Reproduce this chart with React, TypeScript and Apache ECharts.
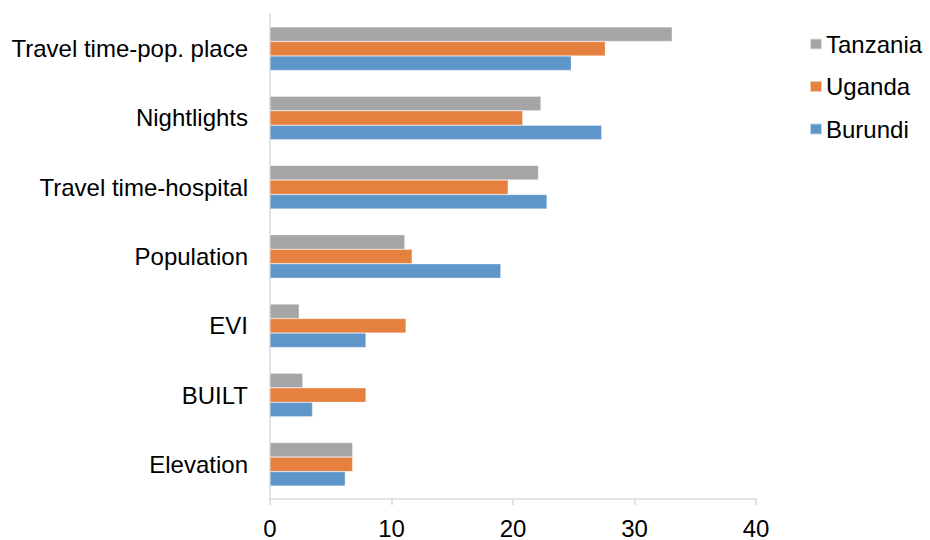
import React, { useEffect, useRef } from "react";
import * as echarts from "echarts";

const categories = [
  "Elevation",
  "BUILT",
  "EVI",
  "Population",
  "Travel time-hospital",
  "Nightlights",
  "Travel time-pop. place",
];
const seriesNames = ["Tanzania", "Uganda", "Burundi"];
const tanzania = [6.8, 2.7, 2.4, 11.1, 22.1, 22.3, 33.1];
const uganda = [6.8, 7.9, 11.2, 11.7, 19.6, 20.8, 27.6];
const burundi = [6.2, 3.5, 7.9, 19.0, 22.8, 27.3, 24.8];
const xTicks = [0, 10, 20, 30, 40];
const colors = ["#A5A5A8", "#E5803F", "#5F96CA"];

export default function App() {
  const ref = useRef<HTMLDivElement>(null);
  useEffect(() => {
    if (!ref.current) return;
    const chart = echarts.init(ref.current, null, { renderer: "svg" });
    const font = "'Liberation Sans', Arial, sans-serif";
    const values = [tanzania, uganda, burundi];
    chart.setOption({
      animation: false,
      textStyle: { fontFamily: font },
      grid: { left: 270, right: 174, top: 14, bottom: 38, containLabel: false },
      legend: {
        orient: "vertical",
        left: 804,
        top: 27,
        itemWidth: 12,
        itemHeight: 11,
        itemGap: 18.5,
        icon: "rect",
        data: seriesNames,
        textStyle: { fontSize: 24, color: "#000", fontFamily: font, padding: [0, 0, 0, -1] },
      },
      xAxis: {
        type: "value",
        min: xTicks[0],
        max: xTicks[xTicks.length - 1],
        interval: 10,
        axisLine: { show: true, lineStyle: { color: "#D9D9D9", width: 1.5 } },
        axisTick: { show: true, length: 6, lineStyle: { color: "#D9D9D9", width: 1.5 } },
        splitLine: { show: false },
        axisLabel: { fontSize: 24, color: "#000", margin: 17, fontFamily: font },
      },
      yAxis: {
        type: "category",
        data: categories,
        axisLine: { show: true, lineStyle: { color: "#D9D9D9", width: 1.5 } },
        axisTick: { show: false },
        axisLabel: { fontSize: 24, color: "#000", margin: 22, fontFamily: font },
      },
      series: seriesNames.map((name, i) => ({
        name,
        type: "bar",
        data: values[i],
        barWidth: 14.5,
        barGap: "0%",
        itemStyle: { color: colors[i], borderColor: "rgba(255,255,255,0.6)", borderWidth: 0.5 },
      })),
    });
    return () => chart.dispose();
  }, []);
  return <div ref={ref} style={{ width: 930, height: 540, position: "absolute", left: 0, top: 0 }} />;
}
